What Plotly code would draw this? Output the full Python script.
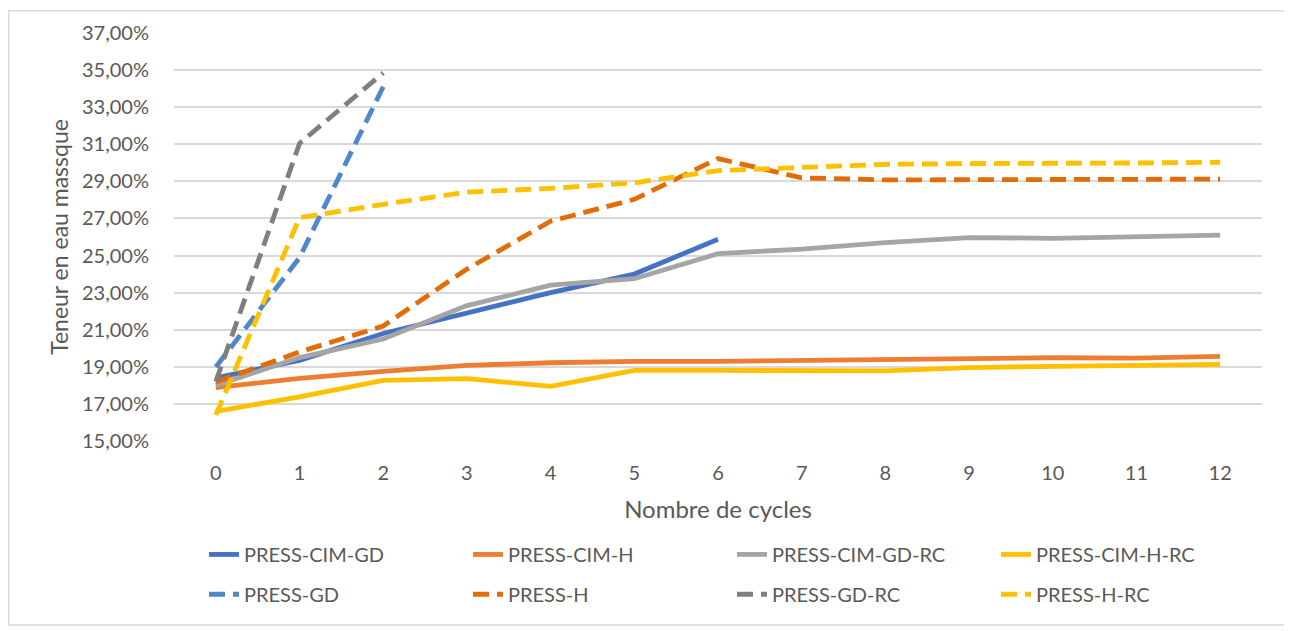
import plotly.graph_objects as go

cycles = list(range(13))

press_cim_gd = [18.40, 19.35, 20.80, 21.87, 23.00, 24.00, 25.88]
press_cim_h = [17.88, 18.38, 18.76, 19.08, 19.22, 19.29, 19.29, 19.35, 19.35, 19.42, 19.49, 19.47, 19.56]
press_cim_gd_rc = [18.00, 19.50, 20.50, 22.30, 23.40, 23.75, 25.10, 25.35, 25.70, 25.97, 25.93, 26.04, 26.10]
press_cim_h_rc = [16.60, 17.38, 18.27, 18.36, 17.95, 18.81, 18.81, 18.81, 18.78, 18.96, 19.05, 19.08, 19.13]
press_gd = [18.99, 24.89, 34.10]
press_h = [18.18, 19.80, 21.20, 24.27, 26.85, 28.03, 30.23, 29.19, 29.08, 29.08, 29.08, 29.10, 29.12]
press_gd_rc = [18.20, 31.05, 34.85]
press_h_rc = [16.40, 27.04, 27.76, 28.42, 28.62, 28.92, 29.58, 29.76, 29.92, 29.96, 29.96, 29.99, 30.03]

y_ticks = [15, 17, 19, 21, 23, 25, 27, 29, 31, 33, 35, 37]
y_tick_labels = [f"{v:.2f}".replace(".", ",") + "%" for v in y_ticks]

DASH = "16px,8px"
series = [
    ("PRESS-CIM-GD", press_cim_gd, "#4472C4", "solid", "legend"),
    ("PRESS-CIM-H", press_cim_h, "#ED7D31", "solid", "legend"),
    ("PRESS-CIM-GD-RC", press_cim_gd_rc, "#A5A5A5", "solid", "legend"),
    ("PRESS-CIM-H-RC", press_cim_h_rc, "#FFC000", "solid", "legend"),
    ("PRESS-GD", press_gd, "#4F87CC", DASH, "legend2"),
    ("PRESS-H", press_h, "#E36C09", DASH, "legend2"),
    ("PRESS-GD-RC", press_gd_rc, "#7F7F7F", DASH, "legend2"),
    ("PRESS-H-RC", press_h_rc, "#FFC000", DASH, "legend2"),
]

FONT = "Lato, 'Open Sans', sans-serif"
GREY = "#595959"

fig = go.Figure()
for name, vals, color, dash, leg in series:
    fig.add_trace(go.Scatter(
        x=cycles[:len(vals)], y=vals, name=name, mode="lines",
        line=dict(color=color, width=4.8, dash=dash),
        legend=leg,
    ))

# page has an 8px body margin; figure coordinates are page minus 8
W, H = 1284, 623
ml, mr, mt, mb = 166, 30, 23, 190
pw, ph = W - ml - mr, H - mt - mb

def px_x(p):
    return (p - ml) / pw

def px_y(p):
    return (H - mb - p) / ph

legend_common = dict(
    orientation="h", xanchor="left", yanchor="middle",
    font=dict(family=FONT, size=20, color=GREY),
    entrywidth=219, entrywidthmode="pixels",
    bgcolor="rgba(0,0,0,0)",
)

fig.update_layout(
    width=W, height=H,
    margin=dict(l=ml, r=mr, t=mt, b=mb),
    paper_bgcolor="white", plot_bgcolor="white",
    font=dict(family=FONT, color=GREY),
    xaxis=dict(
        type="linear", range=[-0.5, 12.5], tickvals=cycles,
        showgrid=False, zeroline=False, showline=False, ticks="",
        ticklabelstandoff=18,
        tickfont=dict(size=20, color=GREY),
        title=dict(text="Nombre de cycles", font=dict(size=24, color=GREY), standoff=18),
    ),
    yaxis=dict(
        range=[15, 37], tickvals=y_ticks, ticktext=y_tick_labels,
        showgrid=True, gridcolor="#D9D9D9", gridwidth=1.5, zeroline=False,
        showline=False, ticks="", ticklabelstandoff=24,
        tickfont=dict(size=20, color=GREY),
        title=dict(text="Teneur en eau massque", font=dict(size=23, color=GREY), standoff=6),
    ),
    legend=dict(x=px_x(196), y=px_y(547), **legend_common),
    legend2=dict(x=px_x(196), y=px_y(587), **legend_common),
    shapes=[dict(
        type="rect", xref="paper", yref="paper",
        x0=px_x(0.75), x1=px_x(1281), y0=px_y(618), y1=px_y(0.75),
        line=dict(color="#D9D9D9", width=1.5), fillcolor="rgba(0,0,0,0)", layer="below",
    )],
)

fig.write_html("out.html")
